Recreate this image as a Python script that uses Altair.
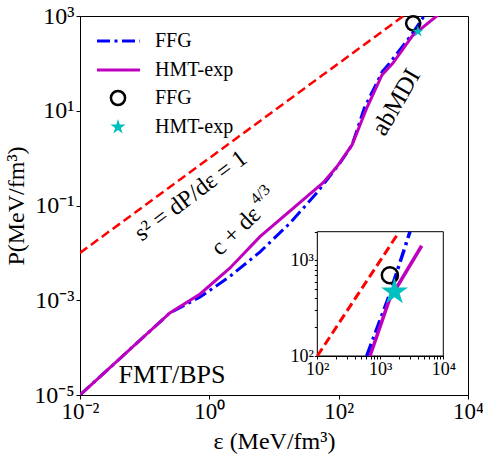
import math
import altair as alt
import pandas as pd

# ---------------- data ----------------
ffg_eps = [0.01, 0.245, 0.72, 2.09, 6.1, 17.8, 46, 66, 105, 161, 250, 470, 608, 1340, 2960]
ffg_p = [1e-5, 5.4e-4, 1.17e-3, 3.2e-3, 0.0105, 0.043, 0.185, 0.35, 0.79, 1.9, 11.5, 66, 100, 403, 2000]

hmt_eps = [0.01, 0.245, 0.72, 2.09, 6.07, 57, 93, 161, 276, 468, 686, 1390, 4540]
hmt_p = [1e-5, 5.4e-4, 1.36e-3, 4.8e-3, 0.022, 0.30, 0.65, 1.9, 12, 57, 100, 387, 1425]

causal_eps = [0.01, 100, 1900, 10000]
causal_p = [0.01, 100, 1900, 10000]

pt_names = ["FFG", "HMT-exp"]
pt_eps = [1420, 1680]
pt_p = [700, 470]

ann_text = ["s²  =  dP/dε  =  1", "c + dε", "4/3", "abMDI", "FMT/BPS"]
ann_eps = [0.52, 1.46, 1.46, 770, 0.265]
ann_p = [0.16, 8.3e-3, 8.3e-3, 15.3, 2.65e-5]

legend_labels = ["FFG", "HMT-exp", "FFG", "HMT-exp"]

x_ticks_main = [0.01, 1, 100, 10000]
y_ticks_main = [1e-5, 1e-3, 0.1, 10, 1000]
x_ticks_inset = [100, 200, 300, 400, 500, 600, 700, 800, 900, 1000, 2000, 3000, 4000,
                 5000, 6000, 7000, 8000, 9000, 10000]
y_ticks_inset = [100, 200, 300, 400, 500, 600, 700, 800, 900, 1000, 2000]

# ---------------- tables ----------------
ffg_df = pd.DataFrame({"eps": ffg_eps, "P": ffg_p})
hmt_df = pd.DataFrame({"eps": hmt_eps, "P": hmt_p})
causal_df = pd.DataFrame({"eps": causal_eps, "P": causal_p})
pts_df = pd.DataFrame({"eps": pt_eps, "P": pt_p, "pt": pt_names})

def in_inset(df):
    return df[(df["P"] >= 99.9) & (df["P"] <= 2001) & (df["eps"] >= 99.9)]

box_df = pd.DataFrame({"x": [100], "x2": [10000], "y": [100], "y2": [2000]})

FONT = "Liberation Serif"
BLUE, MAG, RED, CYAN = "#0000ff", "#bf00bf", "#ff0000", "#00bfbf"
FFG_DASH = [13, 4.5, 3, 4.5]
RED_DASH = [9, 4.5]

# five-pointed star symbol (marker shape), in the [-1, 1] box
_pts = []
for k in range(10):
    a = math.radians(-90 + 36 * k)
    r = 1.0 if k % 2 == 0 else 0.382
    _pts.append(f"{r * math.cos(a):.3f},{r * math.sin(a):.3f}")
STAR = "M" + "L".join(_pts) + "Z"

SUP = {-5: "⁻⁵", -3: "⁻³", -2: "⁻²", -1: "⁻¹", 0: "⁰", 1: "¹", 2: "²", 3: "³", 4: "⁴"}

def label_expr(exps):
    e = "round(log(datum.value)/LN10)"
    s = "''"
    for k in exps:
        s = f"({e} == {k} ? '10{SUP[k]}' : {s})"
    return f"abs(log(datum.value)/LN10 - {e}) < 0.001 ? {s} : ''"

W, H = 388, 379

# ---------------- main scales / axes ----------------
xs_main = alt.Scale(type="log", domain=[0.01, 10000], nice=False)
ys_main = alt.Scale(type="log", domain=[1e-5, 1000], nice=False)
ax_x_main = alt.Axis(values=x_ticks_main, labelExpr=label_expr([-2, 0, 2, 4]), orient="bottom",
                     title="ε (MeV/fm³)", tickSize=4, labelPadding=1, labelFontSize=23,
                     titleFontSize=24, titlePadding=6, labelFlush=False)
ax_y_main = alt.Axis(values=y_ticks_main, labelExpr=label_expr([-5, -3, -1, 1, 3]), orient="left",
                     title="P(MeV/fm³)", tickSize=4, labelPadding=2, labelFontSize=24,
                     titleFontSize=24, titlePadding=5, labelFlush=False)
X = alt.X("eps:Q", scale=xs_main, axis=ax_x_main)
Y = alt.Y("P:Q", scale=ys_main, axis=ax_y_main)

red_main = alt.Chart(causal_df).mark_line(color=RED, strokeDash=RED_DASH, strokeWidth=2.5,
                                          clip=True).encode(x=X, y=Y)
ffg_main = alt.Chart(ffg_df).mark_line(color=BLUE, strokeDash=FFG_DASH, strokeWidth=3,
                                       clip=True).encode(x=X, y=Y)
hmt_main = alt.Chart(hmt_df).mark_line(color=MAG, strokeWidth=3, clip=True).encode(x=X, y=Y)
circ_main = alt.Chart(pts_df.iloc[[0]]).mark_point(shape="circle", size=200, strokeWidth=2.5,
                                                   color="black", opacity=1).encode(x=X, y=Y)
star_main = alt.Chart(pts_df.iloc[[1]]).mark_point(shape=STAR, size=150, filled=True,
                                                   color=CYAN, opacity=1).encode(x=X, y=Y)

def ann(i, angle, size, align="center", dx=0, dy=0, baseline="middle"):
    d = pd.DataFrame({"eps": [ann_eps[i]], "P": [ann_p[i]], "t": [ann_text[i]]})
    return alt.Chart(d).mark_text(angle=angle, fontSize=size, font=FONT, color="black",
                                  align=align, baseline=baseline, dx=dx, dy=dy).encode(
        x=X, y=Y, text="t:N")

texts = [
    ann(0, 323, 24),
    ann(1, 316, 24, align="left", baseline="alphabetic"),
    ann(2, 316, 16, align="left", baseline="alphabetic", dx=62, dy=-12),
    ann(3, 300, 25),
    ann(4, 0, 26),
]

# ---------------- legend (drawn in pixel space of the plot area) ----------------
LEG_Y = [25, 54, 82, 111]
LEG_X0, LEG_X1, LEG_XS, LEG_XT = 17, 60, 38, 75
one = pd.DataFrame({"k": [0]})

def leg_text(i):
    return alt.Chart(one).mark_text(text=legend_labels[i], font=FONT, fontSize=20, align="left",
                                    baseline="middle", color="black").encode(
        x=alt.value(LEG_XT), y=alt.value(LEG_Y[i]))

legend = [
    alt.Chart(one).mark_rule(color=BLUE, strokeDash=FFG_DASH, strokeWidth=3).encode(
        x=alt.value(LEG_X0), x2=alt.value(LEG_X1), y=alt.value(LEG_Y[0])),
    alt.Chart(one).mark_rule(color=MAG, strokeWidth=3).encode(
        x=alt.value(LEG_X0), x2=alt.value(LEG_X1), y=alt.value(LEG_Y[1])),
    alt.Chart(one).mark_point(shape="circle", size=200, strokeWidth=2.5, color="black",
                              opacity=1).encode(x=alt.value(LEG_XS), y=alt.value(LEG_Y[2])),
    alt.Chart(one).mark_point(shape=STAR, size=250, filled=True, color=CYAN,
                              opacity=1).encode(x=alt.value(LEG_XS), y=alt.value(LEG_Y[3])),
] + [leg_text(i) for i in range(4)]

main = alt.layer(red_main, ffg_main, hmt_main, circ_main, star_main, *texts, *legend)

# ---------------- inset ----------------
xs_in = alt.Scale(type="log", domain=[100, 10000], range=[237.3, 363.3], nice=False)
ys_in = alt.Scale(type="log", domain=[100, 2000], range=[340, 215.7], nice=False)
ax_x_in = alt.Axis(values=x_ticks_inset, labelExpr=label_expr([2, 3, 4]), title=None,
                   orient="bottom", offset=-39, labelFontSize=18, labelPadding=1,
                   tickSize=3, labelFlush=False, grid=False)
ax_y_in = alt.Axis(values=y_ticks_inset, labelExpr=label_expr([2, 3]), title=None,
                   orient="left", offset=-237.3, labelFontSize=18, labelPadding=1,
                   tickSize=3, labelFlush=False, grid=False)
XI = alt.X("eps:Q", scale=xs_in, axis=ax_x_in)
YI = alt.Y("P:Q", scale=ys_in, axis=ax_y_in)

box = alt.Chart(box_df).mark_rect(fill="white", stroke="black", strokeWidth=1).encode(
    x=alt.X("x:Q", scale=xs_in, axis=ax_x_in), x2="x2:Q",
    y=alt.Y("y:Q", scale=ys_in, axis=ax_y_in), y2="y2:Q")
red_in = alt.Chart(in_inset(causal_df)).mark_line(color=RED, strokeDash=RED_DASH,
                                                  strokeWidth=3).encode(x=XI, y=YI)
ffg_in = alt.Chart(in_inset(ffg_df)).mark_line(color=BLUE, strokeDash=FFG_DASH,
                                               strokeWidth=3.5).encode(x=XI, y=YI)
hmt_in = alt.Chart(in_inset(hmt_df)).mark_line(color=MAG, strokeWidth=3.5).encode(x=XI, y=YI)
circ_in = alt.Chart(pts_df.iloc[[0]]).mark_point(shape="circle", size=260, strokeWidth=2.5,
                                                 color="black", opacity=1).encode(x=XI, y=YI)
star_in = alt.Chart(pts_df.iloc[[1]]).mark_point(shape=STAR, size=800, filled=True,
                                                 color=CYAN, opacity=1).encode(x=XI, y=YI)
inset = alt.layer(box, red_in, ffg_in, hmt_in, circ_in, star_in)

chart = alt.layer(main, inset).resolve_scale(x="independent", y="independent").properties(
    width=W, height=H,
    background="white",
    autosize=alt.AutoSizeParams(type="none"),
    padding={"left": 80, "top": 16, "right": 15, "bottom": 65},
).configure_view(stroke="black", strokeWidth=1).configure_axis(
    labelFont=FONT, titleFont=FONT, labelColor="black", titleColor="black",
    domainColor="black", tickColor="black", grid=False, titleFontWeight="normal",
)

chart.save("out.html", embed_options={"renderer": "svg", "actions": False})
